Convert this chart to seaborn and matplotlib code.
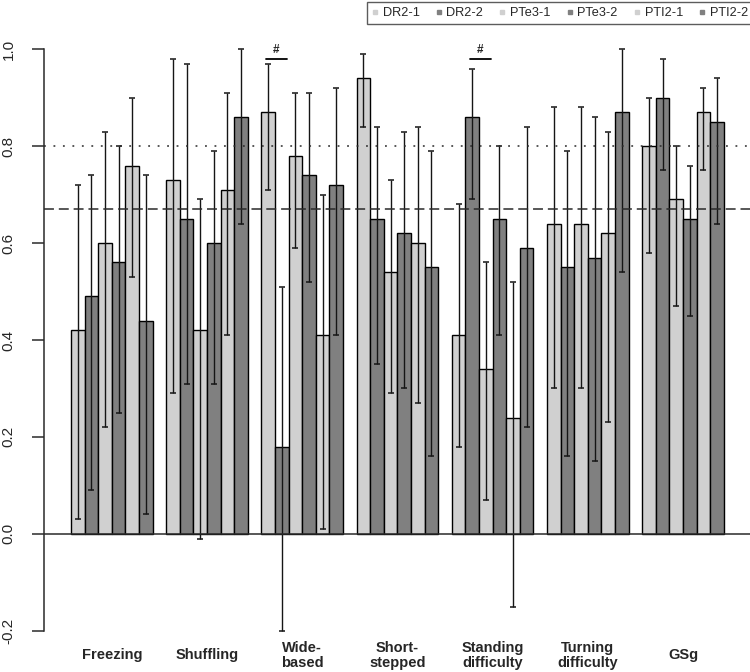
import matplotlib
matplotlib.use("Agg")
import matplotlib.pyplot as plt
from matplotlib.lines import Line2D
import seaborn as sns
import numpy as np
import pandas as pd

items = ["Freezing", "Shuffling", "Wide-\nbased", "Short-\nstepped",
         "Standing\ndifficulty", "Turning\ndifficulty", "GSg"]
groups = ["DR2-1", "DR2-2", "PTe3-1", "PTe3-2", "PTI2-1", "PTI2-2"]

# point estimates per rater group, in item order
dr2_1 = [0.42, 0.73, 0.87, 0.94, 0.41, 0.64, 0.80]
dr2_2 = [0.49, 0.65, 0.18, 0.65, 0.86, 0.55, 0.90]
pte3_1 = [0.60, 0.42, 0.78, 0.54, 0.34, 0.64, 0.69]
pte3_2 = [0.56, 0.60, 0.74, 0.62, 0.65, 0.57, 0.65]
pti2_1 = [0.76, 0.71, 0.41, 0.60, 0.24, 0.62, 0.87]
pti2_2 = [0.44, 0.86, 0.72, 0.55, 0.59, 0.87, 0.85]

# lower / upper confidence limits
dr2_1_lo = [0.03, 0.29, 0.71, 0.84, 0.18, 0.30, 0.58]
dr2_1_hi = [0.72, 0.98, 0.97, 0.99, 0.68, 0.88, 0.90]
dr2_2_lo = [0.09, 0.31, -0.20, 0.35, 0.69, 0.16, 0.75]
dr2_2_hi = [0.74, 0.97, 0.51, 0.84, 0.96, 0.79, 0.98]
pte3_1_lo = [0.22, -0.01, 0.59, 0.29, 0.07, 0.30, 0.47]
pte3_1_hi = [0.83, 0.69, 0.91, 0.73, 0.56, 0.88, 0.80]
pte3_2_lo = [0.25, 0.31, 0.52, 0.30, 0.41, 0.15, 0.45]
pte3_2_hi = [0.80, 0.79, 0.91, 0.83, 0.80, 0.86, 0.76]
pti2_1_lo = [0.53, 0.41, 0.01, 0.27, -0.15, 0.23, 0.75]
pti2_1_hi = [0.90, 0.91, 0.70, 0.84, 0.52, 0.83, 0.92]
pti2_2_lo = [0.04, 0.64, 0.41, 0.16, 0.22, 0.54, 0.64]
pti2_2_hi = [0.74, 1.00, 0.92, 0.79, 0.84, 1.00, 0.94]

ref_good = 0.80   # dotted
ref_fair = 0.67   # dashed

# significance marks: (item index, group index of first bar)
sig_marks = [(2, 0), (4, 1)]

est = [dr2_1, dr2_2, pte3_1, pte3_2, pti2_1, pti2_2]
lo = [dr2_1_lo, dr2_2_lo, pte3_1_lo, pte3_2_lo, pti2_1_lo, pti2_2_lo]
hi = [dr2_1_hi, dr2_2_hi, pte3_1_hi, pte3_2_hi, pti2_1_hi, pti2_2_hi]

rows = []
for g, vals in zip(groups, est):
    for it, v in zip(items, vals):
        rows.append({"item": it, "group": g, "value": v})
df = pd.DataFrame(rows)

sns.set_style("white")
plt.rcParams["font.family"] = ["Liberation Sans", "DejaVu Sans"]

light, dark = "#d0d0d0", "#808080"
palette = [light, dark] * 3

fig = plt.figure(figsize=(7.5, 6.72), dpi=100)
ax = fig.add_axes([44 / 750, 1 - 654 / 672, 706 / 750, 628 / 672])

sns.barplot(data=df, x="item", y="value", hue="group", order=items,
            hue_order=groups, palette=palette, width=6 / 7, gap=0,
            edgecolor="black", linewidth=1.0, errorbar=None, legend=False,
            ax=ax, zorder=2)

# confidence intervals
bar_conts = list(ax.containers)
centers = []
bar_w = None
for gi, cont in enumerate(bar_conts):
    xs = np.array([b.get_x() + b.get_width() / 2 for b in cont])
    bar_w = cont[0].get_width()
    centers.append(xs)
    e = np.array(est[gi])
    yerr = [e - np.array(lo[gi]), np.array(hi[gi]) - e]
    ax.errorbar(xs, e, yerr=yerr, fmt="none", ecolor="#151515",
                elinewidth=1.0, capsize=2.4, capthick=1.1, zorder=4)

ax.axhline(0, color="#2a2a2a", lw=1.1, zorder=5)
ax.axhline(ref_good, color="#2a2a2a", lw=1.1, ls=(0, (1.2, 5.0)), zorder=5)
ax.axhline(ref_fair, color="#2a2a2a", lw=1.1, ls=(0, (6.5, 3.2)), zorder=5)

for it_i, g_i in sig_marks:
    x0 = centers[g_i][it_i] - 0.15 * bar_w
    x1 = centers[g_i][it_i] + 1.35 * bar_w
    ax.plot([x0, x1], [0.98, 0.98], color="black", lw=1.3, zorder=5,
            clip_on=False)
    ax.text((x0 + x1) / 2, 0.986, "#", ha="center", va="bottom",
            fontsize=8.5, fontweight="bold")

ax.set_xlim(-0.712, 6.704)
ax.set_ylim(-0.248, 1.048)
ax.set_xlabel("")
ax.set_ylabel("")

for s in ["top", "right", "bottom"]:
    ax.spines[s].set_visible(False)
ax.spines["left"].set_bounds(-0.2, 1.0)
ax.spines["left"].set_color("#2a2a2a")
ax.spines["left"].set_linewidth(1.1)

ax.set_yticks([-0.2, 0.0, 0.2, 0.4, 0.6, 0.8, 1.0])
ax.set_yticklabels(["-0.2", "0.0", "0.2", "0.4", "0.6", "0.8", "1.0"])
ax.tick_params(axis="y", direction="out", length=8.6, width=1.1,
               color="#2a2a2a", pad=12, labelsize=11, left=True)
for lab in ax.get_yticklabels():
    lab.set_rotation(90)
    lab.set_va("center")

ax.tick_params(axis="x", length=0, pad=1, labelsize=10.5)
for lab in ax.get_xticklabels():
    lab.set_va("center")
    lab.set_fontweight("bold")
    lab.set_linespacing(1.15)

handles = [Line2D([], [], marker="s", ls="", markersize=3.5,
                  markerfacecolor=c, markeredgecolor=c) for c in palette]
leg = fig.legend(handles, groups, loc="upper right",
                 bbox_to_anchor=(1.004, 0.997), ncol=6, fontsize=9.2,
                 frameon=True, fancybox=False, handlelength=0.4,
                 handletextpad=0.4, columnspacing=1.3, borderpad=0.4,
                 borderaxespad=0)
leg.get_frame().set_edgecolor("#333333")
leg.get_frame().set_linewidth(1.0)

fig.savefig("out.png", dpi=100)
